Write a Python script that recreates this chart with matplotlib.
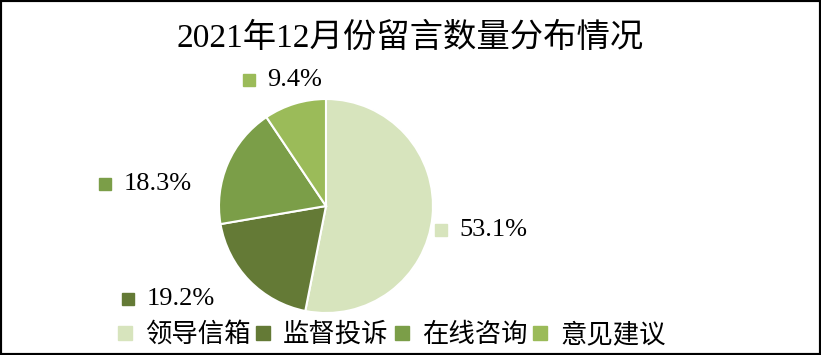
import matplotlib.pyplot as plt
from matplotlib.patches import Rectangle
from matplotlib.lines import Line2D

categories = ["领导信箱", "监督投诉", "在线咨询", "意见建议"]
values = [53.1, 19.2, 18.3, 9.4]
colors = ["#D7E4BD", "#647A36", "#7B9E48", "#9BBB59"]
title = "2021年12月份留言数量分布情况"

# where each percent label sits (square marker position, data units of pie)
label_pos = [(1.075, -0.224), (-1.85, -0.87), (-2.065, 0.206), (-0.72, 1.178)]

num_font = ["Liberation Serif", "Noto Sans CJK SC"]
cjk_font = ["Noto Sans CJK SC", "DejaVu Sans"]

fig = plt.figure(figsize=(8.21, 3.55), dpi=100)
ax = fig.add_axes([0.2667, 0.1183, 0.2607, 0.6028])

ax.pie(values, colors=colors, startangle=90, counterclock=False,
       wedgeprops=dict(edgecolor="white", linewidth=1.5))
ax.set_xlim(-1, 1)
ax.set_ylim(-1, 1)
ax.set_aspect("equal")

for (x, y), v, c in zip(label_pos, values, colors):
    ax.plot([x], [y], marker="s", markersize=8, color=c, clip_on=False,
            linestyle="none")
    ax.text(x + 0.17, y, f"{v:.1f}%", ha="left", va="center",
            fontsize=19, family=num_font, clip_on=False)

fig.text(0.5, 0.893, title, ha="center", va="center", fontsize=24,
         family=["Liberation Serif", "Noto Sans CJK SC"])

handles = [Line2D([], [], marker="s", linestyle="none", markersize=10,
                  color=c) for c in colors]
fig.legend(handles, categories, loc="center", bbox_to_anchor=(0.475, 0.058),
           ncol=4, frameon=False, handlelength=0.8, handletextpad=0.35,
           columnspacing=0.1, prop=dict(family=cjk_font, size=19))

fig.patches.append(Rectangle((0, 0), 1, 1, transform=fig.transFigure,
                             fill=False, edgecolor="black", linewidth=3))

fig.savefig("out.png", dpi=100)
